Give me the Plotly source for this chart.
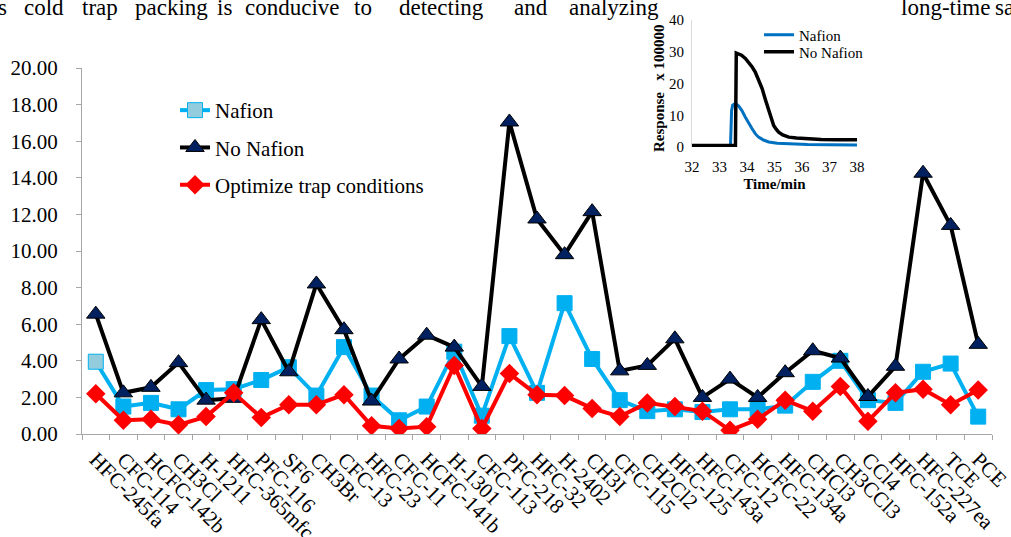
import plotly.graph_objects as go

# ---------------- data ----------------
compounds = ["HFC-245fa", "CFC-114", "HCFC-142b", "CH3Cl", "H-1211", "HFC-365mfc",
             "PFC-116", "SF6", "CH3Br", "CFC-13", "HFC-23", "CFC-11", "HCFC-141b",
             "H-1301", "CFC-113", "PFC-218", "HFC-32", "H-2402", "CH3I", "CFC-115",
             "CH2Cl2", "HFC-125", "HFC-143a", "CFC-12", "HCFC-22", "HFC-134a",
             "CHCl3", "CH3CCl3", "CCl4", "HFC-152a", "HFC-227ea", "TCE", "PCE"]

nafion = [3.95, 1.5, 1.7, 1.35, 2.4, 2.45, 2.95, 3.65, 2.1, 4.75, 2.1, 0.75, 1.5,
          4.5, 1.0, 5.35, 2.25, 7.15, 4.1, 1.85, 1.25, 1.35, 1.2, 1.35, 1.35, 1.55,
          2.85, 4.0, 1.85, 1.7, 3.4, 3.85, 0.95]

no_nafion = [6.55, 2.25, 2.55, 3.9, 1.85, 1.95, 6.25, 3.4, 8.2, 5.7, 1.8, 4.1, 5.4,
             4.75, 2.6, 17.05, 11.75, 9.8, 12.15, 3.45, 3.75, 5.2, 2.0, 3.0, 2.0, 3.35,
             4.55, 4.15, 2.05, 3.7, 14.25, 11.4, 4.9]

optimize = [2.2, 0.75, 0.8, 0.5, 0.95, 2.25, 0.9, 1.6, 1.6, 2.15, 0.45, 0.3, 0.4,
            3.75, 0.3, 3.3, 2.15, 2.1, 1.4, 0.95, 1.7, 1.5, 1.25, 0.2, 0.8, 1.85,
            1.25, 2.6, 0.7, 2.25, 2.45, 1.6, 2.4]

y_ticks = [0, 2, 4, 6, 8, 10, 12, 14, 16, 18, 20]

# inset chromatogram (time in min, response x 100000)
t_nafion = [32, 33.40, 33.44, 33.48, 33.55, 33.62, 33.70, 33.82, 33.94, 34.06, 34.18,
            34.30, 34.42, 34.60, 34.79, 35.10, 35.52, 36.20, 37.00, 38]
r_nafion = [0.5, 0.5, 11.5, 13.2, 13.6, 13.4, 12.9, 11.4, 9.4, 7.5, 5.8,
            4.2, 3.1, 2.2, 1.6, 1.2, 1.0, 0.8, 0.7, 0.6]

t_no_nafion = [32, 33.58, 33.61, 33.70, 33.80, 33.94, 34.06, 34.18, 34.30, 34.42, 34.55,
               34.67, 34.79, 34.88, 34.97, 35.06, 35.15, 35.30, 35.52, 35.80, 36.12,
               36.70, 37.30, 38]
r_no_nafion = [0.5, 0.5, 29.6, 29.4, 28.9, 27.9, 26.7, 25.3, 23.6, 21.3, 18.4,
               14.9, 11.5, 9.0, 6.8, 5.6, 4.7, 3.8, 3.1, 2.8, 2.6,
               2.4, 2.3, 2.3]

header_words = [("s", -4), ("cold", 22), ("trap", 80), ("packing", 133), ("is", 215),
                ("conducive", 243), ("to", 352), ("detecting", 397), ("and", 512),
                ("analyzing", 567), ("long-time", 899), ("sa", 993)]

# ---------------- layout geometry (pixels) ----------------
W, H = 1011, 537
ML, MR, MT, MB = 82, 19, 15, 103
PW, PH = W - ML - MR, H - MT - MB
BOTTOM = H - MB


def px_x(px):
    return (px - ML) / PW


def px_y(py):
    return (BOTTOM - py) / PH


FONT = "Liberation Serif"

fig = go.Figure()

fig.add_trace(go.Scatter(
    x=compounds, y=nafion, name="Nafion", mode="lines+markers",
    line=dict(color="#00B0F0", width=4),
    marker=dict(symbol="square", size=15,
                color=["#93CDDD"] + ["#00B0F0"] * (len(nafion) - 1),
                line=dict(color="#00B0F0", width=1)),
    legendgroup="a", legend="legend"))

fig.add_trace(go.Scatter(
    x=compounds, y=no_nafion, name="No Nafion", mode="lines+markers",
    line=dict(color="#000000", width=4),
    marker=dict(symbol="triangle-up", size=16, color="#002060",
                line=dict(color="#000000", width=1)),
    legendgroup="b", legend="legend"))

fig.add_trace(go.Scatter(
    x=compounds, y=optimize, name="Optimize trap conditions", mode="lines+markers",
    line=dict(color="#FF0000", width=4),
    marker=dict(symbol="diamond", size=15, color="#FF0000"),
    legendgroup="c", legend="legend"))

fig.add_trace(go.Scatter(
    x=t_nafion, y=r_nafion, name="Nafion", mode="lines",
    line=dict(color="#0070C0", width=3),
    xaxis="x2", yaxis="y2", legend="legend2"))

fig.add_trace(go.Scatter(
    x=t_no_nafion, y=r_no_nafion, name="No Nafion", mode="lines",
    line=dict(color="#000000", width=3.5),
    xaxis="x2", yaxis="y2", legend="legend3"))

annotations = []
for word, xp in header_words:
    annotations.append(dict(
        text=word, x=px_x(xp), y=px_y(7), xref="paper", yref="paper",
        xanchor="left", yanchor="middle", showarrow=False,
        font=dict(family=FONT, size=23, color="#000000")))

# inset y-axis title
annotations.append(dict(
    text="<b>Response\u00a0\u00a0\u00a0x 100000</b>", textangle=-90,
    x=px_x(659), y=px_y(88), xref="paper", yref="paper",
    xanchor="center", yanchor="middle", showarrow=False,
    font=dict(family=FONT, size=15, color="#000000")))

legend_common = dict(xanchor="left", yanchor="middle", bgcolor="rgba(0,0,0,0)",
                     borderwidth=0)

fig.update_layout(
    width=W, height=H,
    margin=dict(l=ML, r=MR, t=MT, b=MB, pad=0, autoexpand=False),
    paper_bgcolor="white", plot_bgcolor="white",
    font=dict(family=FONT, size=21, color="#000000"),
    showlegend=True,
    xaxis=dict(
        type="category", range=[-0.5, len(compounds) - 0.5],
        domain=[0, 1], anchor="y", automargin=False,
        showline=True, linecolor="#A6A6A6", linewidth=1,
        ticks="outside", tickson="boundaries", ticklen=5, tickcolor="#A6A6A6",
        tickangle=45, ticklabelstandoff=4,
        tickfont=dict(family=FONT, size=21, color="#000000"),
        showgrid=False, zeroline=False),
    yaxis=dict(
        range=[0, 20], domain=[0, px_y(68)], anchor="x", automargin=False,
        tickvals=y_ticks, tickformat=".2f",
        showline=True, linecolor="#A6A6A6", linewidth=1,
        ticks="outside", ticklen=5, tickcolor="#A6A6A6",
        ticklabelstandoff=14,
        tickfont=dict(family=FONT, size=21, color="#000000"),
        showgrid=False, zeroline=False),
    xaxis2=dict(
        range=[32, 38], dtick=1, domain=[px_x(692), px_x(857)], anchor="y2",
        automargin=False,
        showline=False, ticks="", showgrid=False, zeroline=False,
        ticklabelstandoff=9,
        tickfont=dict(family=FONT, size=15, color="#000000"),
        title=dict(text="<b>Time/min</b>", font=dict(family=FONT, size=15, color="#000000"),
                   standoff=4)),
    yaxis2=dict(
        range=[0, 40], dtick=10, domain=[px_y(147), px_y(20)], anchor="x2",
        automargin=False,
        showline=True, linecolor="#D9D9D9", linewidth=1,
        ticks="", showgrid=False, zeroline=False,
        ticklabelstandoff=4,
        tickfont=dict(family=FONT, size=15, color="#000000")),
    legend=dict(
        x=px_x(175), y=px_y(90), xanchor="left", yanchor="top",
        bgcolor="rgba(0,0,0,0)", borderwidth=0, tracegroupgap=7,
        font=dict(family=FONT, size=21, color="#000000")),
    legend2=dict(x=px_x(759), y=px_y(35),
                 font=dict(family=FONT, size=15, color="#000000"), **legend_common),
    legend3=dict(x=px_x(759), y=px_y(52),
                 font=dict(family=FONT, size=15, color="#000000"), **legend_common),
    annotations=annotations,
)

fig.write_html("out.html")
